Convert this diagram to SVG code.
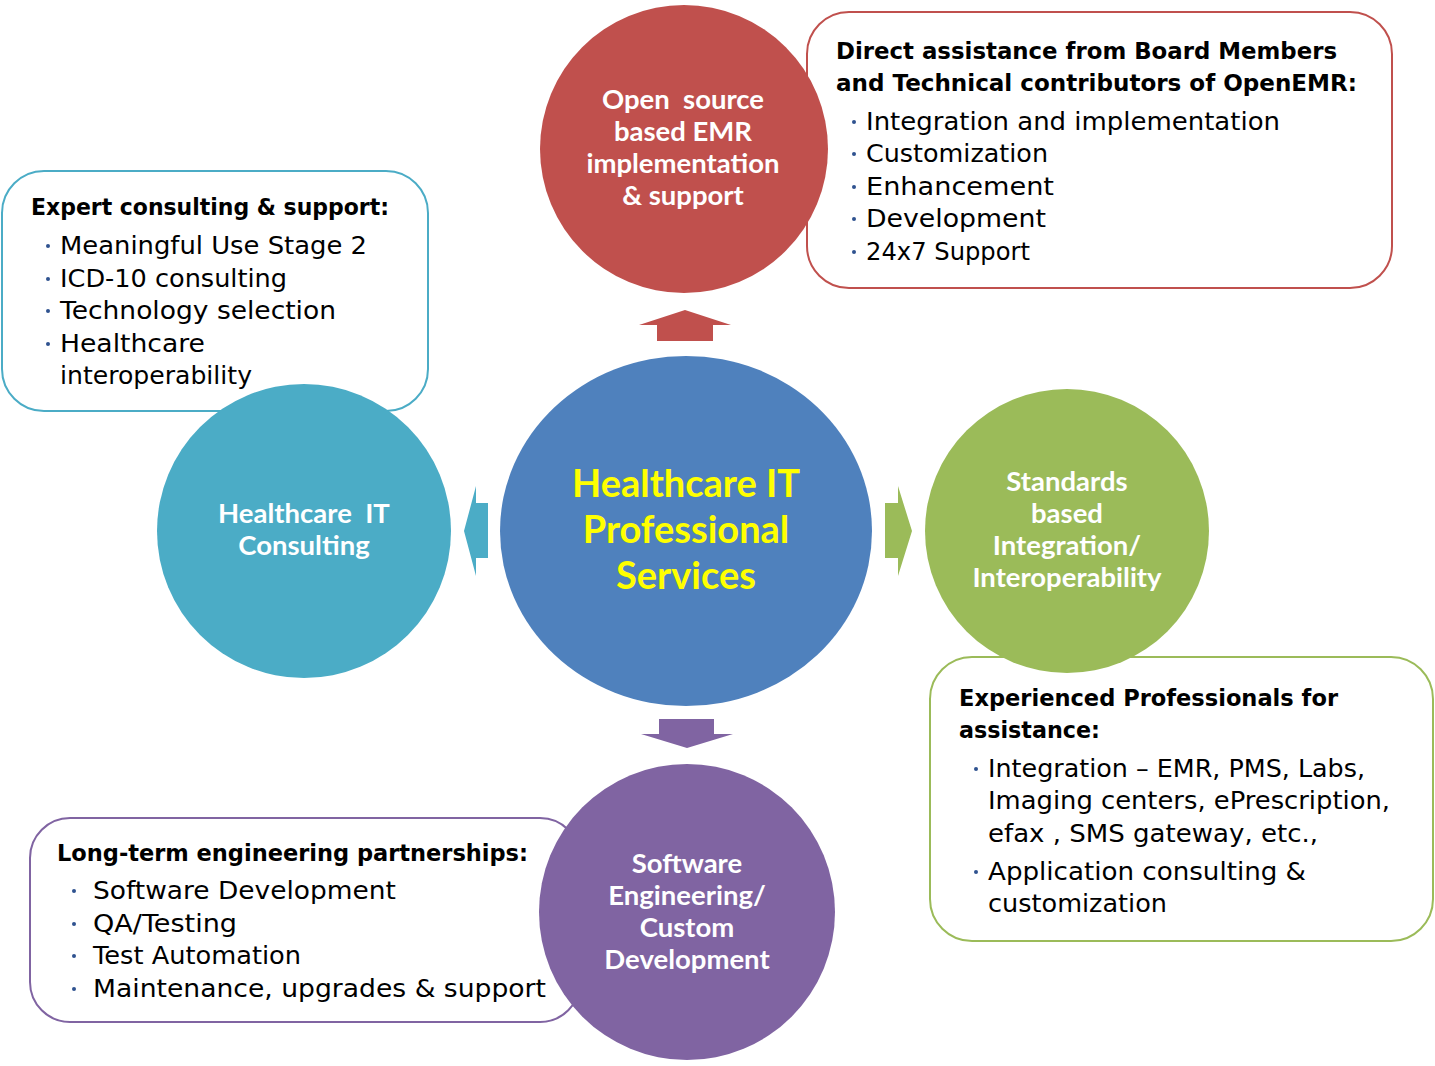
<svg xmlns="http://www.w3.org/2000/svg" width="1435" height="1066" viewBox="0 0 1435 1066">
<style>
.box{fill:#fff;stroke-width:2}
.head{font-family:"DejaVu Sans",sans-serif;font-weight:bold;font-size:22.5px;fill:#000}
.item{font-family:"DejaVu Sans",sans-serif;font-size:24px;fill:#000}
.lbl{font-family:Lato,"Liberation Sans",sans-serif;font-weight:bold;font-size:27.5px;fill:#fff;text-anchor:middle;white-space:pre}
.main{font-family:Lato,"Liberation Sans",sans-serif;font-weight:bold;font-size:38px;fill:#ffff00;text-anchor:middle}
.dot{fill:#2f528f}
</style>
<rect width="1435" height="1066" fill="#fff"/>
<g id="connectors">
<polygon points="685,310 731,325 713,325 713,341 657,341 657,325 639,325" fill="#c0504d"/>
<polygon points="464,531 476,486 476,503 488,503 488,558 476,558 476,576" fill="#4bacc6"/>
<polygon points="912,531 898,486 898,503 885,503 885,558 898,558 898,576" fill="#9bbb59"/>
<polygon points="687,748 733,734 714,734 714,719 659,719 659,734 641,734" fill="#8064a2"/>
</g>
<g id="box-consulting">
<rect class="box" x="2" y="171" width="426" height="240" rx="42" stroke="#4bacc6"/>
<text class="head" x="31" y="215" textLength="358" lengthAdjust="spacingAndGlyphs">Expert consulting &amp; support:</text>
<circle class="dot" cx="48" cy="246" r="2"/><text class="item" x="60" y="254" textLength="307" lengthAdjust="spacingAndGlyphs">Meaningful Use Stage 2</text>
<circle class="dot" cx="48" cy="279" r="2"/><text class="item" x="60" y="287" textLength="227" lengthAdjust="spacingAndGlyphs">ICD-10 consulting</text>
<circle class="dot" cx="48" cy="311" r="2"/><text class="item" x="60" y="319" textLength="276" lengthAdjust="spacingAndGlyphs">Technology selection</text>
<circle class="dot" cx="48" cy="344" r="2"/><text class="item" x="60" y="352" textLength="145" lengthAdjust="spacingAndGlyphs">Healthcare</text>
<text class="item" x="60" y="384" textLength="192" lengthAdjust="spacingAndGlyphs">interoperability</text>
</g>
<g id="box-openemr">
<rect class="box" x="807" y="12" width="585" height="276" rx="42" stroke="#c0504d"/>
<text class="head" x="836" y="59" textLength="501" lengthAdjust="spacingAndGlyphs">Direct assistance from Board Members</text>
<text class="head" x="836" y="91" textLength="521" lengthAdjust="spacingAndGlyphs">and Technical contributors of OpenEMR:</text>
<circle class="dot" cx="854" cy="122" r="2"/><text class="item" x="866" y="130" textLength="414" lengthAdjust="spacingAndGlyphs">Integration and implementation</text>
<circle class="dot" cx="854" cy="154" r="2"/><text class="item" x="866" y="162" textLength="182" lengthAdjust="spacingAndGlyphs">Customization</text>
<circle class="dot" cx="854" cy="187" r="2"/><text class="item" x="866" y="195" textLength="188" lengthAdjust="spacingAndGlyphs">Enhancement</text>
<circle class="dot" cx="854" cy="219" r="2"/><text class="item" x="866" y="227" textLength="180" lengthAdjust="spacingAndGlyphs">Development</text>
<circle class="dot" cx="854" cy="252" r="2"/><text class="item" x="866" y="260" textLength="164" lengthAdjust="spacingAndGlyphs">24x7 Support</text>
</g>
<g id="box-integration">
<rect class="box" x="930" y="657" width="503" height="284" rx="42" stroke="#9bbb59"/>
<text class="head" x="959" y="706" textLength="379" lengthAdjust="spacingAndGlyphs">Experienced Professionals for</text>
<text class="head" x="959" y="738" textLength="141" lengthAdjust="spacingAndGlyphs">assistance:</text>
<circle class="dot" cx="976" cy="769" r="2"/><text class="item" x="988" y="777" textLength="377" lengthAdjust="spacingAndGlyphs">Integration – EMR, PMS, Labs,</text>
<text class="item" x="988" y="809" textLength="402" lengthAdjust="spacingAndGlyphs">Imaging centers, ePrescription,</text>
<text class="item" x="988" y="842" textLength="330" lengthAdjust="spacingAndGlyphs">efax , SMS gateway, etc.,</text>
<circle class="dot" cx="976" cy="872" r="2"/><text class="item" x="988" y="880" textLength="318" lengthAdjust="spacingAndGlyphs">Application consulting &amp;</text>
<text class="item" x="988" y="912" textLength="179" lengthAdjust="spacingAndGlyphs">customization</text>
</g>
<g id="box-engineering">
<rect class="box" x="30" y="818" width="550" height="204" rx="40" stroke="#8064a2"/>
<text class="head" x="57" y="861" textLength="471" lengthAdjust="spacingAndGlyphs">Long-term engineering partnerships:</text>
<circle class="dot" cx="74" cy="891" r="2"/><text class="item" x="93" y="899" textLength="303" lengthAdjust="spacingAndGlyphs">Software Development</text>
<circle class="dot" cx="74" cy="924" r="2"/><text class="item" x="93" y="932" textLength="144" lengthAdjust="spacingAndGlyphs">QA/Testing</text>
<circle class="dot" cx="74" cy="956" r="2"/><text class="item" x="93" y="964" textLength="208" lengthAdjust="spacingAndGlyphs">Test Automation</text>
<circle class="dot" cx="74" cy="989" r="2"/><text class="item" x="93" y="997" textLength="453" lengthAdjust="spacingAndGlyphs">Maintenance, upgrades &amp; support</text>
</g>
<g id="node-openemr">
<circle cx="684" cy="149" r="144" fill="#c0504d"/>
<text class="lbl" x="683" y="109" xml:space="preserve">Open  source</text>
<text class="lbl" x="683" y="141">based EMR</text>
<text class="lbl" x="683" y="173">implementation</text>
<text class="lbl" x="683" y="205">&amp; support</text>
</g>
<g id="node-consulting">
<circle cx="304" cy="531" r="147" fill="#4bacc6"/>
<text class="lbl" x="304" y="523" xml:space="preserve">Healthcare  IT</text>
<text class="lbl" x="304" y="555">Consulting</text>
</g>
<g id="node-center">
<ellipse cx="686" cy="531" rx="186" ry="175" fill="#4f81bd"/>
<text class="main" x="686" y="497">Healthcare IT</text>
<text class="main" x="686" y="543">Professional</text>
<text class="main" x="686" y="589">Services</text>
</g>
<g id="node-integration">
<circle cx="1067" cy="531" r="142" fill="#9bbb59"/>
<text class="lbl" x="1067" y="491">Standards</text>
<text class="lbl" x="1067" y="523">based</text>
<text class="lbl" x="1067" y="555">Integration/</text>
<text class="lbl" x="1067" y="587">Interoperability</text>
</g>
<g id="node-engineering">
<circle cx="687" cy="912" r="148" fill="#8064a2"/>
<text class="lbl" x="687" y="873">Software</text>
<text class="lbl" x="687" y="905">Engineering/</text>
<text class="lbl" x="687" y="937">Custom</text>
<text class="lbl" x="687" y="969">Development</text>
</g>
</svg>
